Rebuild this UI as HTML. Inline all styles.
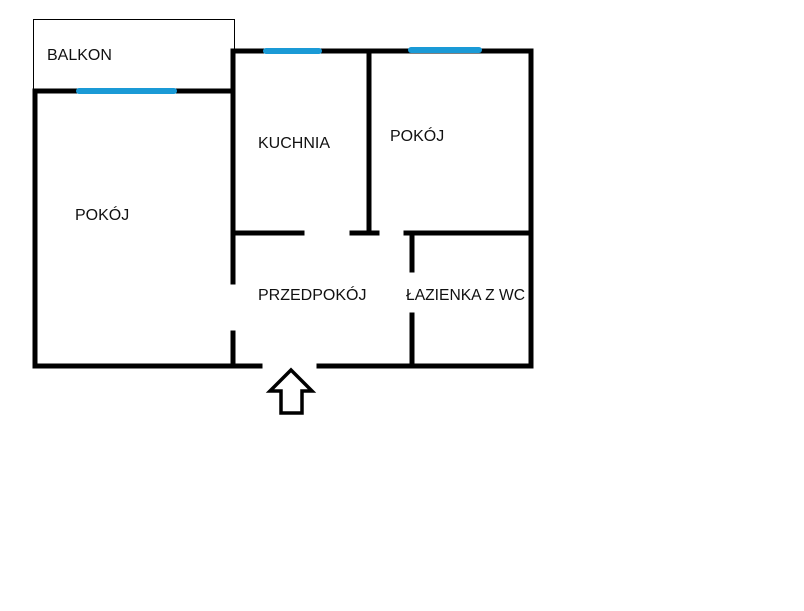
<!DOCTYPE html>
<html><head><meta charset="utf-8"><style>
html,body{margin:0;padding:0;background:#fff;width:804px;height:611px;overflow:hidden}
text{font-family:"Liberation Sans",sans-serif;font-size:16px;fill:#111}
</style></head><body>
<svg width="804" height="611" xmlns="http://www.w3.org/2000/svg">
<rect x="33.5" y="19.5" width="201" height="72" fill="none" stroke="#000" stroke-width="1"/>
<g stroke="#000" stroke-width="5" fill="none" stroke-linecap="square">
<line x1="35" y1="91" x2="233" y2="91"/>
<line x1="35" y1="91" x2="35" y2="366"/>
<line x1="35" y1="366" x2="260" y2="366"/>
<line x1="319" y1="366" x2="531" y2="366"/>
<line x1="233" y1="51" x2="233" y2="282"/>
<line x1="233" y1="333" x2="233" y2="366"/>
<line x1="233" y1="51" x2="531" y2="51"/>
<line x1="531" y1="51" x2="531" y2="366"/>
<line x1="369" y1="51" x2="369" y2="233"/>
<line x1="233" y1="233" x2="302" y2="233"/>
<line x1="352" y1="233" x2="377" y2="233"/>
<line x1="406" y1="233" x2="531" y2="233"/>
<line x1="412" y1="233" x2="412" y2="270"/>
<line x1="412" y1="315" x2="412" y2="366"/>
</g>
<g stroke="#1a9ad6" stroke-width="6" stroke-linecap="round">
<line x1="79" y1="91" x2="174" y2="91"/>
<line x1="266" y1="51" x2="319" y2="51"/>
<line x1="411" y1="50" x2="479" y2="50"/>
</g>
<polygon points="291,370 312,391 302,391 302,413 281,413 281,391 270,391" fill="#fff" stroke="#000" stroke-width="3.5" stroke-linejoin="miter"/>
<text x="47" y="60">BALKON</text>
<text x="258" y="148">KUCHNIA</text>
<text x="390" y="141">POKÓJ</text>
<text x="75" y="220">POKÓJ</text>
<text x="258" y="300">PRZEDPOKÓJ</text>
<text x="406" y="300" textLength="119" lengthAdjust="spacingAndGlyphs">ŁAZIENKA Z WC</text>
</svg>
</body></html>
